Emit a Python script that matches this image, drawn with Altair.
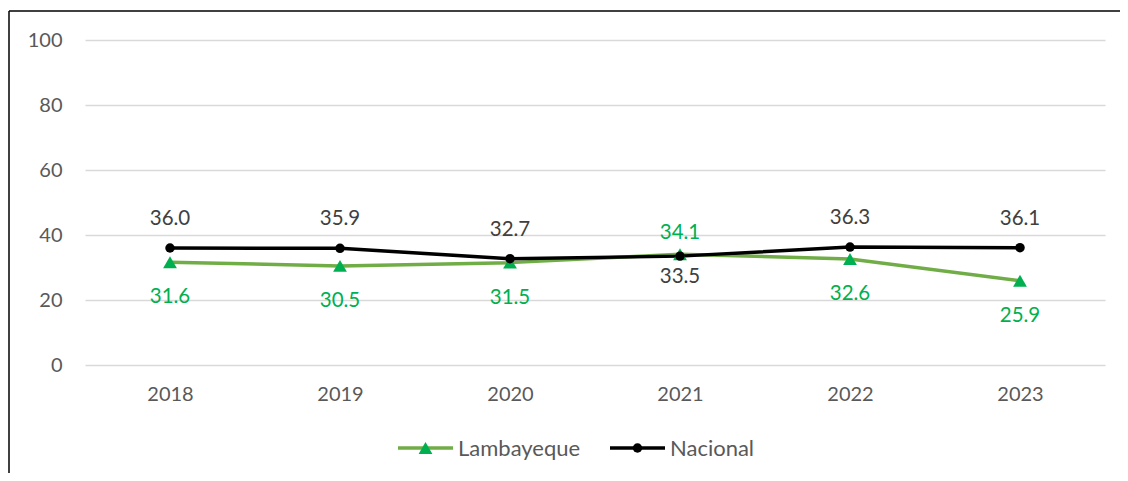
import altair as alt
import pandas as pd

years = ["2018", "2019", "2020", "2021", "2022", "2023"]
lambayeque = [31.6, 30.5, 31.5, 34.1, 32.6, 25.9]
nacional = [36.0, 35.9, 32.7, 33.5, 36.3, 36.1]
lamb_pos = ["below", "below", "below", "above-near", "below", "below"]
nac_pos = ["above", "above", "above", "below-near", "above", "above"]
series = ["Lambayeque", "Nacional"]

rows = []
for y, v, p in zip(years, lambayeque, lamb_pos):
    rows.append({"year": y, "serie": "Lambayeque", "value": v, "pos": p})
for y, v, p in zip(years, nacional, nac_pos):
    rows.append({"year": y, "serie": "Nacional", "value": v, "pos": p})
df = pd.DataFrame(rows)

FONT = "Lato"
GREEN_LINE = "#70AD47"
GREEN_MARK = "#00B050"
LABEL_GREY = "#595959"

x = alt.X("year:N", scale=alt.Scale(paddingInner=0, paddingOuter=0),
          axis=alt.Axis(labelAngle=0, domain=False, ticks=False, grid=False, title=None,
                        labelPadding=19, labelFontSize=20, labelColor=LABEL_GREY, labelFont=FONT))
y = alt.Y("value:Q", scale=alt.Scale(domain=[0, 100]),
          axis=alt.Axis(values=[0, 20, 40, 60, 80, 100], domain=False, ticks=False, title=None,
                        gridColor="#D9D9D9", gridWidth=1.3, labelPadding=23,
                        labelFontSize=20, labelColor=LABEL_GREY, labelFont=FONT))

base = alt.Chart(df)

lines = base.mark_line(strokeWidth=3.5).encode(
    x=x, y=y,
    stroke=alt.Stroke("serie:N", scale=alt.Scale(domain=series, range=[GREEN_LINE, "#000000"]), legend=None),
)

tri = base.transform_filter(alt.datum.serie == "Lambayeque").mark_point(
    shape="triangle-up", filled=True, size=190, color=GREEN_MARK, opacity=1).encode(x=x, y=y)
circ = base.transform_filter(alt.datum.serie == "Nacional").mark_point(
    shape="circle", filled=True, size=90, color="#000000", opacity=1).encode(x=x, y=y)

def labels(serie, pos, dy, color):
    return base.transform_filter(
        (alt.datum.serie == serie) & (alt.datum.pos == pos)
    ).mark_text(dy=dy, fontSize=20.5, font=FONT, color=color).encode(
        x=x, y=y, text=alt.Text("value:Q", format=".1f"))

lbls = [
    labels("Nacional", "above", -29, "#404040"),
    labels("Nacional", "below-near", 21, "#404040"),
    labels("Lambayeque", "below", 35, GREEN_MARK),
    labels("Lambayeque", "above-near", -21, GREEN_MARK),
]

# Legend (drawn manually, below the plot)
legend_src = alt.Chart(alt.Data(values=[{"name": s} for s in series]))

def legend_entry(name, x0, color_line, marker_shape, marker_color, marker_size):
    d = legend_src.transform_filter(alt.datum.name == name)
    ln = d.mark_rule(color=color_line, strokeWidth=3.5).encode(
        x=alt.value(x0), x2=alt.value(x0 + 55), y=alt.value(408))
    mk = d.mark_point(shape=marker_shape, filled=True, size=marker_size, color=marker_color,
                      opacity=1).encode(x=alt.value(x0 + 27.5), y=alt.value(408))
    tx = d.mark_text(align="left", baseline="middle", fontSize=22, font=FONT,
                     color=LABEL_GREY).encode(x=alt.value(x0 + 60), y=alt.value(409),
                                               text="name:N")
    return [ln, mk, tx]

legend_layers = (legend_entry("Lambayeque", 313, GREEN_LINE, "triangle-up", GREEN_MARK, 190)
                 + legend_entry("Nacional", 525, "#000000", "circle", "#000000", 90))

frame = alt.Chart(alt.Data(values=[{}]))
left_border = frame.mark_rule(color="#000000", strokeWidth=1.5).encode(
    x=alt.value(-76), y=alt.value(-29), y2=alt.value(445))
top_border = frame.mark_rule(color="#000000", strokeWidth=1.5).encode(
    x=alt.value(-76), x2=alt.value(1045), y=alt.value(-29))

chart = alt.layer(lines, tri, circ, *lbls, *legend_layers, left_border, top_border).properties(
    width=1020, height=325,
    autosize=alt.AutoSizeParams(type="none"),
    padding={"left": 77, "top": 32, "right": 15, "bottom": 108},
).configure_view(stroke=None)

chart.save("out.html", embed_options={"renderer": "svg", "actions": False})
